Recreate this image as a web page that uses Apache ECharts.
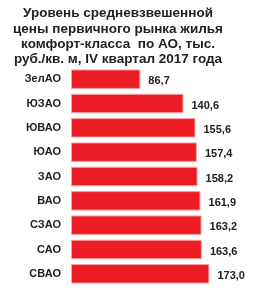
<!DOCTYPE html>
<html>
<head>
<meta charset="utf-8">
<script src="https://cdn.jsdelivr.net/npm/echarts@6/dist/echarts.min.js"></script>
<style>
  html, body { margin: 0; padding: 0; background: #fff; }
  #chart { width: 262px; height: 290px; }
</style>
</head>
<body>
<div id="chart"></div>
<script>
var titleText = 'Уровень средневзвешенной\nцены первичного рынка жилья\nкомфорт-класса  по АО, тыс.\nруб./кв. м, IV квартал 2017 года';
var districts = ['ЗелАО', 'ЮЗАО', 'ЮВАО', 'ЮАО', 'ЗАО', 'ВАО', 'СЗАО', 'САО', 'СВАО'];
var prices = [86.7, 140.6, 155.6, 157.4, 158.2, 161.9, 163.2, 163.6, 173.0];

window.onload = function() {
    var chart = echarts.init(document.getElementById('chart'));
    chart.setOption({
        animation: false,
        title: {
            text: titleText,
            left: 113,
            textAlign: 'center',
            top: 1,
            textStyle: {
                fontFamily: 'Liberation Sans',
                fontWeight: 'bold',
                fontSize: 13.5,
                lineHeight: 15.2,
                color: '#222'
            }
        },
        grid: {
            left: 71,
            right: 31,
            top: 67,
            bottom: 4,
            containLabel: false
        },
        xAxis: {
            type: 'value',
            min: 0,
            max: 200,
            show: false
        },
        yAxis: {
            type: 'category',
            data: districts,
            inverse: true,
            axisLine: { show: false },
            axisTick: { show: false },
            axisLabel: {
                margin: 10,
                fontFamily: 'Liberation Sans',
                fontWeight: 'bold',
                fontSize: 11,
                color: '#222'
            }
        },
        series: [{
            type: 'bar',
            data: prices,
            barCategoryGap: '20%',
            itemStyle: {
                color: '#ec1c24',
                borderColor: '#f6a3a3',
                borderWidth: 1
            },
            label: {
                show: true,
                position: 'right',
                distance: 8,
                offset: [0, 2],
                fontFamily: 'Liberation Sans',
                fontWeight: 'bold',
                fontSize: 11,
                color: '#222',
                formatter: function(p) {
                    return p.value.toFixed(1).replace('.', ',');
                }
            }
        }]
    });
};
</script>
</body>
</html>
